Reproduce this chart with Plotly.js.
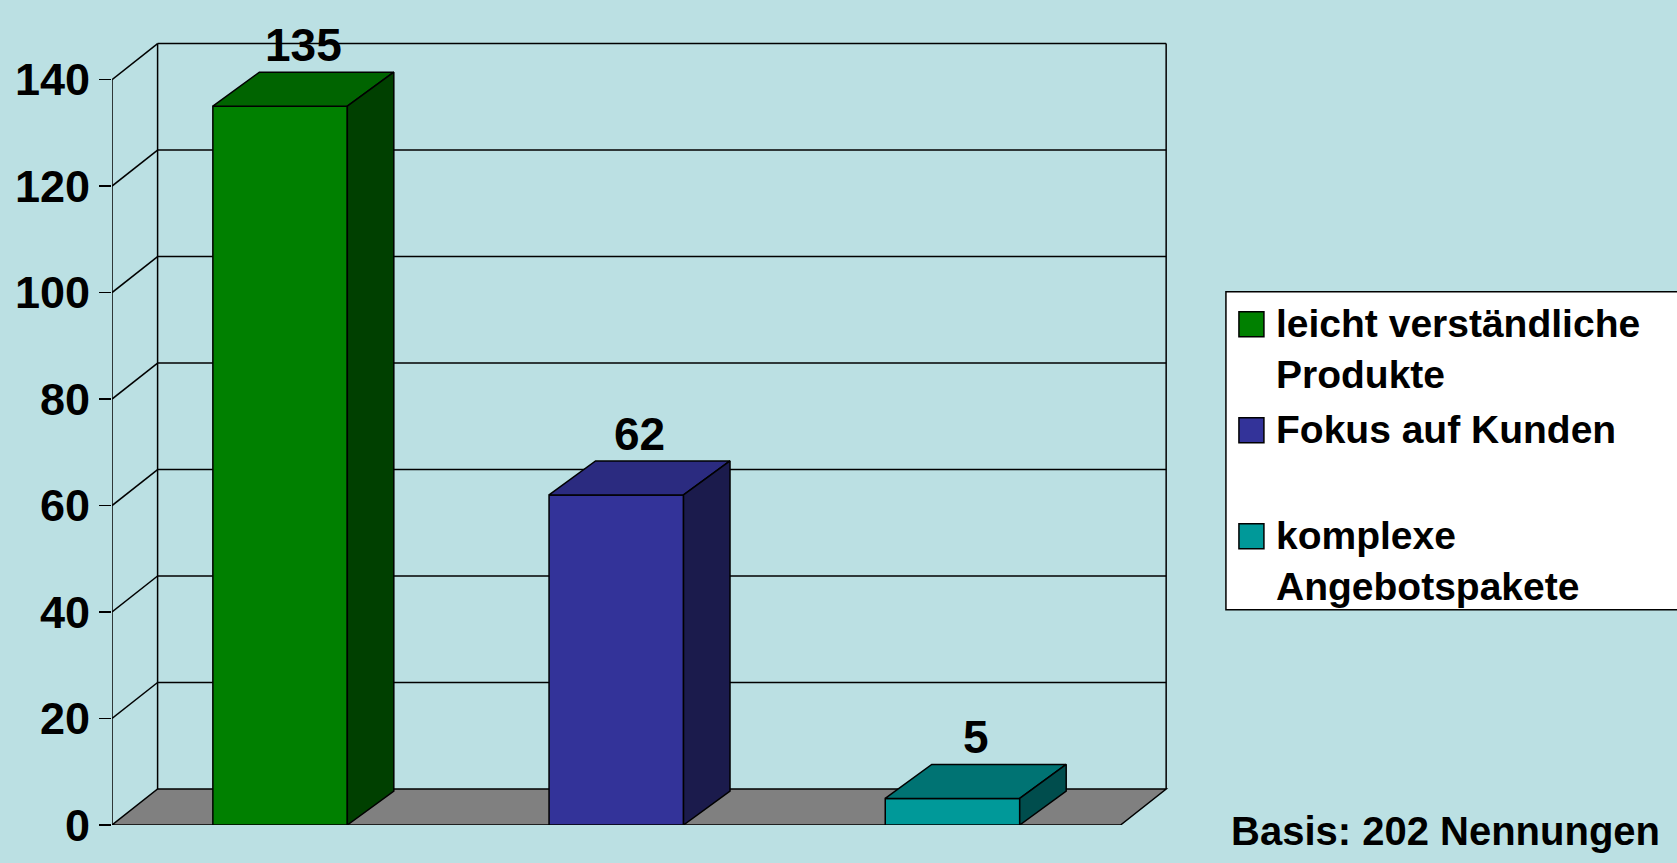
<!DOCTYPE html>
<html>
<head>
<meta charset="utf-8">
<script src="https://cdn.plot.ly/plotly-3.0.1.min.js"></script>
<style>
html,body{margin:0;padding:0;background:#BBE0E3;}
#chart{width:1677px;height:863px;}
</style>
</head>
<body>
<div id="chart"></div>
<script>
// ---- data ----
const categories = ['leicht verständliche Produkte', 'Fokus auf Kunden', 'komplexe Angebotspakete'];
const legendLabels = ['leicht verständliche<br>Produkte', 'Fokus auf Kunden<br>\u00a0', 'komplexe<br>Angebotspakete'];
const values = [135, 62, 5];
const frontColors = ['#008000', '#333399', '#009999'];
const topColors = ['#006400', '#2B2B80', '#007373'];
const sideColors = ['#004000', '#1B1B4C', '#004D4D'];
const yTicks = [0, 20, 40, 60, 80, 100, 120, 140];
const footnote = 'Basis: 202 Nennungen';

// ---- layout geometry ----
const W = 1677, H = 863;
const pxPerCat = 336.3, pxPerUnit = 5.325;
const xMin = -0.5, xMax = 2.65, yMin = 0, yMax = 148;
const mL = 111.7, mB = 37.7;
const plotW = (xMax - xMin) * pxPerCat, plotH = (yMax - yMin) * pxPerUnit;
const mR = W - mL - plotW, mT = H - mB - plotH;
const barW = 0.4;
const wallDx = 45.6 / pxPerCat, wallDy = 36 / pxPerUnit;
const barDx = 46.5 / pxPerCat, barDy = 34 / pxPerUnit;
const nCat = categories.length;
const xRight = xMin + nCat; // 2.5
const yTop = yTicks[yTicks.length - 1];
const BG = '#BBE0E3';
const FONT = 'Liberation Sans, Arial, Helvetica, sans-serif';

function paperX(px) { return (px - mL) / plotW; }
function paperY(py) { return (H - mB - py) / plotH; }

const shapes = [];
const line = {color: '#000', width: 1.5};
// floor
shapes.push({type: 'path', xref: 'x', yref: 'y', layer: 'below',
  path: `M${xMin},0 L${xRight},0 L${xRight + wallDx},${wallDy} L${xMin + wallDx},${wallDy} Z`,
  fillcolor: '#808080', line: line});
// back wall gridlines and left wall diagonals
yTicks.forEach(v => {
  if (v > 0) {
    shapes.push({type: 'line', xref: 'x', yref: 'y', layer: 'below',
      x0: xMin + wallDx, x1: xRight + wallDx, y0: v + wallDy, y1: v + wallDy, line: line});
    shapes.push({type: 'line', xref: 'x', yref: 'y', layer: 'below',
      x0: xMin, x1: xMin + wallDx, y0: v, y1: v + wallDy, line: line});
  }
});
// back wall verticals
shapes.push({type: 'line', xref: 'x', yref: 'y', layer: 'below',
  x0: xMin + wallDx, x1: xMin + wallDx, y0: wallDy, y1: yTop + wallDy, line: line});
shapes.push({type: 'line', xref: 'x', yref: 'y', layer: 'below',
  x0: xRight + wallDx, x1: xRight + wallDx, y0: wallDy, y1: yTop + wallDy, line: line});
// front value axis line
shapes.push({type: 'line', xref: 'x', yref: 'y', layer: 'below',
  x0: xMin, x1: xMin, y0: 0, y1: yTop, line: line});

const traces = [];
// front faces
traces.push({type: 'bar', x: categories.map((c, i) => i), y: values, width: barW,
  marker: {color: frontColors, line: {color: '#000', width: 1.5}},
  hoverinfo: 'skip', showlegend: false});
// top and side faces
values.forEach((v, i) => {
  const l = i - barW / 2, r = i + barW / 2;
  traces.push({type: 'scatter', mode: 'lines', fill: 'toself', fillcolor: topColors[i],
    x: [l, r, r + barDx, l + barDx, l], y: [v, v, v + barDy, v + barDy, v],
    line: {color: '#000', width: 1.5}, hoverinfo: 'skip', showlegend: false});
  traces.push({type: 'scatter', mode: 'lines', fill: 'toself', fillcolor: sideColors[i],
    x: [r, r, r + barDx, r + barDx, r], y: [0, v, v + barDy, barDy, 0],
    line: {color: '#000', width: 1.5}, hoverinfo: 'skip', showlegend: false});
});

const annotations = [];
// value labels
values.forEach((v, i) => {
  annotations.push({xref: 'x', yref: 'y', x: i + barDx / 2, y: v + barDy,
    text: String(v), showarrow: false, xanchor: 'center', yanchor: 'bottom', yshift: -1,
    font: {family: FONT, size: 46, color: '#000', weight: 'bold'}});
});

// custom legend
shapes.push({type: 'rect', xref: 'paper', yref: 'paper', layer: 'above',
  x0: paperX(1226), x1: paperX(1690), y0: paperY(292), y1: paperY(610),
  fillcolor: '#FFFFFF', line: line});
const itemTop = 312, itemStep = 106;
legendLabels.forEach((lab, i) => {
  const t = itemTop + i * itemStep;
  shapes.push({type: 'rect', xref: 'paper', yref: 'paper', layer: 'above',
    x0: paperX(1239), x1: paperX(1264), y0: paperY(t), y1: paperY(t + 25),
    fillcolor: frontColors[i], line: line});
  annotations.push({xref: 'paper', yref: 'paper', x: paperX(1274), y: paperY(t - 12),
    text: lab, showarrow: false, xanchor: 'left', yanchor: 'top', align: 'left',
    font: {family: FONT, size: 39, color: '#000', weight: 'bold'}});
});
// footnote
annotations.push({xref: 'paper', yref: 'paper', x: paperX(1662), y: paperY(831),
  text: footnote, showarrow: false, xanchor: 'right', yanchor: 'middle',
  font: {family: FONT, size: 40, color: '#000', weight: 'bold'}});

const layout = {
  width: W, height: H,
  margin: {l: mL, r: mR, t: mT, b: mB, pad: 0},
  paper_bgcolor: BG, plot_bgcolor: BG,
  showlegend: false,
  xaxis: {range: [xMin, xMax], visible: false, fixedrange: true},
  yaxis: {range: [yMin, yMax], tickvals: yTicks, ticktext: yTicks.map(String),
    ticks: 'outside', ticklen: 12, tickwidth: 1.5, tickcolor: '#000',
    showgrid: false, zeroline: false, showline: false, ticklabelstandoff: 0,
    tickfont: {family: FONT, size: 45, color: '#000', weight: 'bold'}, fixedrange: true},
  shapes: shapes,
  annotations: annotations,
  bargap: 0
};

Plotly.newPlot('chart', traces, layout, {displayModeBar: false, staticPlot: true});
</script>
</body>
</html>
